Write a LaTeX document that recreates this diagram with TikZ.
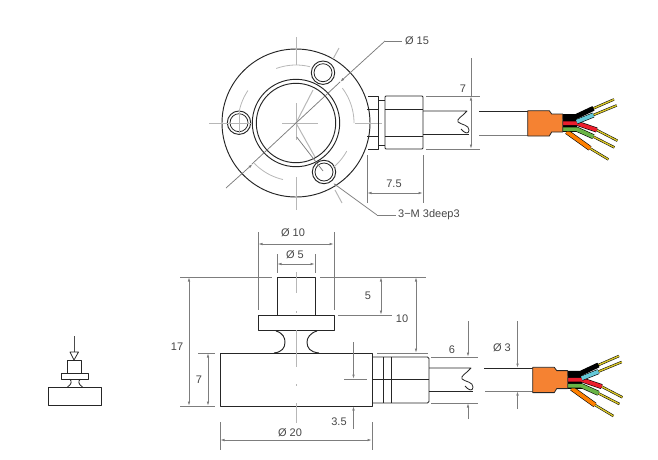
\documentclass[tikz,border=0pt]{standalone}
\usepackage{fontspec}
\setmainfont{Liberation Sans}
\usetikzlibrary{arrows.meta}

\definecolor{dimgray}{RGB}{125,125,125}
\definecolor{labelgray}{RGB}{70,70,70}
\definecolor{sleeve}{RGB}{245,130,50}
\definecolor{pin}{RGB}{214,196,40}
\definecolor{wiregreen}{RGB}{105,180,70}
\definecolor{wireblue}{RGB}{100,200,215}
\definecolor{wirered}{RGB}{235,30,45}

\tikzset{
	drawingpicture/.style = {
		x = 1pt,
		y = -1pt,
		line join = round,
		every node/.style = {
			text = labelgray,
			font = \fontsize{11}{13}\selectfont,
			inner sep = 0pt
		}
	},
	partline/.style = {
		draw = black!85,
		line width = 0.8pt
	},
	thickpart/.style = {
		draw = black!85,
		line width = 0.95pt
	},
	dimline/.style = {
		draw = dimgray,
		line width = 0.75pt
	},
	dimarrow/.style = {
		dimline,
		-{Latex[length=4.5pt,width=2.6pt]}
	},
	dimboth/.style = {
		dimline,
		{Latex[length=4.5pt,width=2.6pt]}-{Latex[length=4.5pt,width=2.6pt]}
	},
	centerline/.style = {
		draw = dimgray!55,
		line width = 1pt
	},
	wirebody/.style = {
		draw = black,
		line width = 0.6pt,
		double = #1,
		double distance = 3.8pt
	},
	wirepin/.style = {
		draw = black,
		line width = 0.5pt,
		double = pin,
		double distance = 1.4pt
	}
}

% orange sleeve with the five wires, (0,0) is its upper left corner
\newcommand{\wirebundle}[1]{
	\begin{scope}[shift = {#1}]
		\draw[wirepin] (65.7,-2.3) -- (86.3,-11.3);
		\draw[wirepin] (65.7,4.3) -- (89,-5.3);
		\draw[wirepin] (69,19.3) -- (89.7,30);
		\draw[wirepin] (65.7,26) -- (86.7,36.7);
		\draw[wirepin] (62.3,37.7) -- (80.7,48.7);
		\fill[black] (35,3.3) rectangle (49,21.3);
		\draw[wirebody = black] (35,6) -- (48,6) -- (65.7,-2.3);
		\draw[wirebody = orange] (39,21) -- (62.3,37.7);
		\draw[wirebody = wiregreen] (35,18.5) -- (49,18.5) -- (65.7,26);
		\draw[wirebody = wirered] (35,12.5) -- (49,12.5) -- (69,19.3);
		\draw[wirebody = wireblue] (49,11) -- (65.7,4.3);
		\draw[partline, fill = sleeve] (0,0) -- (21.6,0) -- (24,3.3) -- (35,3.3)
			-- (35,21.3) -- (24,21.3) -- (21.6,25.3) -- (0,25.3) -- cycle;
	\end{scope}
}

\begin{document}
\begin{tikzpicture}[drawingpicture]
	\useasboundingbox (0,0) rectangle (658,459);

	% top view
	\draw[thickpart] (296,123) circle (74);
	\draw[thickpart] (296,123) circle (43.7);
	\draw[thickpart] (296,123) circle (39.7);
	\foreach \holex/\holey in {323/72.7, 239/122.7, 324/172} {
		\draw[thickpart] (\holex,\holey) circle (11.7);
		\draw[partline] (\holex,\holey) circle (9);
	}

	% bolt circle pieces
	\foreach \arcfrom/\arcto in {-110/-76, -37/0, 29/50, 103/136, 191/214} {
		\draw[centerline, line width = 0.8pt] plot[domain = \arcfrom:\arcto, samples = 20]
			({296 + 58*cos(\x)}, {123 + 58*sin(\x)});
	}

	% centre lines of the top view
	\draw[centerline] (209,123) -- (252,123);
	\draw[centerline] (282,123) -- (318,123);
	\draw[centerline] (355,123) -- (382,123);
	\draw[centerline] (296,37) -- (296,65);
	\draw[centerline] (296,103) -- (296,140);
	\draw[centerline] (296,177) -- (296,210);
	\draw[centerline] (239,111) -- (239,134);
	\draw[centerline] (296,123) -- (313,90);
	\draw[centerline] (333,59) -- (339,48);
	\draw[centerline] (296,123) -- (315,157);
	\draw[centerline] (335,190) -- (342,203);

	% gland and cable of the top view
	\draw[partline] (368,96) -- (378,96) -- (378,149) -- (368,149);
	\draw[partline] (367,109) -- (378,109);
	\draw[partline] (367,136) -- (378,136);
	\draw[partline] (378,100) -- (385,100);
	\draw[partline] (378,145) -- (385,145);
	\draw[partline, rounded corners = 1pt] (385,96) rectangle (423,149);
	\draw[partline] (385,109) -- (423,109);
	\draw[partline] (385,136) -- (423,136);
	\draw[partline] (423,111) -- (467,111) .. controls (463,116) and (456,119) .. (458,122)
		.. controls (462,125) and (469,125) .. (469,130) .. controls (469,135) and (464,133) .. (461,129);
	\draw[partline] (423,134) -- (469,134);
	\draw[partline] (479,111) -- (528,111);
	\draw[dimline] (479,135) -- (528,135);
	\wirebundle{(527.7,110.7)}

	% dimensions of the top view
	\draw[dimline] (252,164) -- (340,82);
	\draw[dimarrow] (226,188) -- (252.7,164);
	\draw[dimarrow] (385,41) -- (340,82);
	\draw[dimline] (385,41) -- (402,41);
	\node (dia15) at (417,41) {Ø 15};
	\draw[dimline] (296.7,137) -- (323,171);
	\draw[dimarrow] (377,215) -- (333,183);
	\draw[dimline] (377,215) -- (396,215);
	\node[anchor = west] (threads) at (398,215) {3−M 3deep3};
	\draw[dimline] (426,96) -- (480,96);
	\draw[dimline] (426,149) -- (480,149);
	\draw[dimline] (471,58) -- (471,96);
	\draw[dimboth] (471,96) -- (471,149);
	\node (cable7) at (463,89) {7};
	\draw[dimline] (367,155) -- (367,203);
	\draw[dimline] (423,155) -- (423,203);
	\draw[dimboth] (367,193) -- (423,193);
	\node (gland75) at (394,184) {7.5};

	% side view
	\draw[thickpart] (220,353) rectangle (372,406);
	\draw[thickpart] (258,315) rectangle (334,330);
	\draw[thickpart] (277,315) -- (277,277) -- (315,277) -- (315,315);
	\draw[thickpart] (276,331) .. controls (283,333) and (285,338) .. (285,342)
		.. controls (285,348) and (282,352) .. (274,353);
	\draw[thickpart] (317,331) .. controls (310,333) and (307,338) .. (307,342)
		.. controls (307,348) and (310,352) .. (319,353);

	% connector and cable of the side view
	\draw[partline, rounded corners = 1.5pt] (372,357) -- (429,357) -- (429,403) -- (372,403);
	\draw[partline] (383,357) -- (383,403);
	\draw[partline] (391,357) -- (391,403);
	\draw[partline] (372,379) -- (429,379);
	\draw[partline] (429,368) -- (471,368) .. controls (467,373) and (460,376) .. (462,379)
		.. controls (466,382) and (473,382) .. (473,387) .. controls (473,392) and (468,390) .. (465,386);
	\draw[partline] (429,391) -- (473,391);
	\draw[partline] (484,368) -- (533,368);
	\draw[dimline] (485,391.5) -- (533,391.5);
	\wirebundle{(532.7,367.3)}

	% centre lines of the side view
	\draw[centerline] (296,272) -- (296,293);
	\draw[centerline] (296,311) -- (296,313);
	\draw[centerline] (296,330) -- (296,367);
	\draw[centerline] (296,384) -- (296,386);
	\draw[centerline] (296,403) -- (296,423);

	% dimensions of the side view
	\draw[dimline] (258,232) -- (258,310);
	\draw[dimline] (334,232) -- (334,310);
	\draw[dimboth] (258,244) -- (334,244);
	\node (dia10) at (293,233) {Ø 10};
	\draw[dimline] (277,254) -- (277,273);
	\draw[dimline] (315,254) -- (315,273);
	\draw[dimboth] (277,264) -- (315,264);
	\node (dia5) at (295,255) {Ø 5};
	\draw[dimline] (180,277) -- (272,277);
	\draw[dimline] (320,277) -- (426,277);
	\draw[dimline] (180,406) -- (215,406);
	\draw[dimline] (198,353) -- (215,353);
	\draw[dimline] (338,315) -- (392,315);
	\draw[dimline] (377,353) -- (428,353);
	\draw[dimboth] (189,277) -- (189,406);
	\node (height17) at (177,347) {17};
	\draw[dimboth] (208,353) -- (208,406);
	\node (body7) at (199,380) {7};
	\draw[dimboth] (381,277) -- (381,315);
	\node (stem5) at (368,296) {5};
	\draw[dimboth] (416,277) -- (416,353);
	\node (top10) at (402,319) {10};
	\draw[dimline] (220,422) -- (220,450);
	\draw[dimline] (372,422) -- (372,450);
	\draw[dimboth] (220,440) -- (372,440);
	\node (dia20) at (290,433) {Ø 20};
	\draw[dimline] (344,379) -- (367,379);
	\draw[dimarrow] (353.5,342) -- (353.5,379);
	\draw[dimarrow] (353.5,429) -- (353.5,406);
	\node (half35) at (339,422) {3.5};
	\draw[dimline] (431,357) -- (478,357);
	\draw[dimline] (431,403) -- (478,403);
	\draw[dimarrow] (468,321) -- (468,357);
	\draw[dimarrow] (468,419) -- (468,403);
	\node (cable6) at (452,350) {6};
	\draw[dimarrow] (517.5,321) -- (517.5,368);
	\draw[dimarrow] (517.5,409) -- (517.5,391);
	\node (dia3) at (502,348) {Ø 3};

	% small load icon
	\draw[partline] (48,387) rectangle (101,405);
	\draw[partline] (61,373.5) rectangle (88,379);
	\draw[partline] (67.5,373.5) -- (67.5,360) -- (81.5,360) -- (81.5,373.5);
	\draw[partline] (69.5,379) .. controls (72,381) and (72,384) .. (67.5,387);
	\draw[partline] (80.5,379) .. controls (78,381) and (78,384) .. (82.5,387);
	\draw[line width = 1pt, draw = black!70] (74,336) -- (74,352);
	\draw[partline] (70,352) -- (78.5,352) -- (74,360) -- cycle;
\end{tikzpicture}
\end{document}
